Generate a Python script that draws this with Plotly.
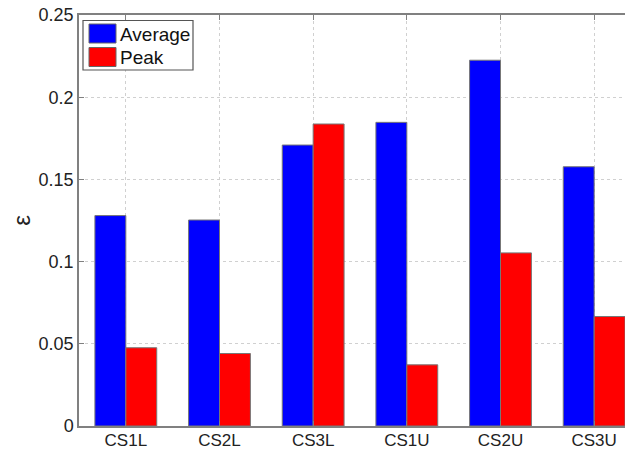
import plotly.graph_objects as go

categories = ["CS1L", "CS2L", "CS3L", "CS1U", "CS2U", "CS3U"]
average = [0.128, 0.1253, 0.1709, 0.1847, 0.2225, 0.1577]
peak = [0.0476, 0.0441, 0.1837, 0.0372, 0.1053, 0.0666]
series_names = ["Average", "Peak"]
series_colors = ["#0000ff", "#ff0000"]
y_ticks = [0, 0.05, 0.1, 0.15, 0.2, 0.25]
y_tick_text = ["0", "0.05", "0.1", "0.15", "0.2", "0.25"]

FONT = "Liberation Sans, Arial, Helvetica, sans-serif"
# page body has an 8px default margin; compensate so the window view matches
OFF = 8
W, H = 633, 450
L, R, T, B = 71, 0, 7, 32
PW, PH = W - L - R, H - T - B


def px_x(wx):
    return (wx - OFF - L) / PW


def px_y(wy):
    return (H - B - (wy - OFF)) / PH


fig = go.Figure()
for name, vals, col in zip(series_names, [average, peak], series_colors):
    fig.add_trace(go.Bar(x=categories, y=vals, name=name, showlegend=False,
                         marker=dict(color=col, line=dict(color="#777777", width=1))))

# MATLAB-style legend box with large swatches
shapes = [dict(type="rect", xref="paper", yref="paper",
               x0=px_x(83), x1=px_x(193), y0=px_y(70), y1=px_y(20.5),
               fillcolor="white", line=dict(color="#555555", width=1.2), layer="above")]
annotations = []
row_tops = [24, 47.5]
for i, (name, col) in enumerate(zip(series_names, series_colors)):
    top = row_tops[i]
    shapes.append(dict(type="rect", xref="paper", yref="paper",
                       x0=px_x(89), x1=px_x(116), y0=px_y(top + 19), y1=px_y(top),
                       fillcolor=col, line=dict(color="#666666", width=1), layer="above"))
    annotations.append(dict(xref="paper", yref="paper", x=px_x(118), y=px_y(top + 10),
                            xanchor="left", yanchor="middle", text=name, showarrow=False,
                            font=dict(size=19, color="#111111", family=FONT)))

fig.update_layout(
    width=W, height=H,
    margin=dict(l=L, r=R, t=T, b=B),
    paper_bgcolor="white", plot_bgcolor="white",
    barmode="group", bargap=0.34, bargroupgap=0,
    font=dict(family=FONT, size=18, color="#222222"),
    showlegend=False,
    shapes=shapes, annotations=annotations,
)
fig.update_xaxes(
    type="category", range=[-0.5, 5.5], automargin=False,
    showline=True, linecolor="#808080", linewidth=1.5, mirror="ticks",
    ticks="inside", ticklen=5, tickcolor="#808080",
    showgrid=True, gridcolor="#d0d0d0", griddash="dot", gridwidth=1,
    tickfont=dict(size=17), zeroline=False, ticklabelstandoff=-2,
    ticklabeloverflow="allow",
)
fig.update_yaxes(
    range=[0, 0.25], tickvals=y_ticks, ticktext=y_tick_text, automargin=False,
    showline=True, linecolor="#808080", linewidth=1.5, mirror=False,
    ticks="inside", ticklen=5, tickcolor="#808080",
    showgrid=True, gridcolor="#d0d0d0", griddash="dot", gridwidth=1,
    tickfont=dict(size=18), zeroline=False, ticklabeloverflow="allow",
    title=dict(text="ε", font=dict(size=24), standoff=33),
)
fig.write_html("out.html")
